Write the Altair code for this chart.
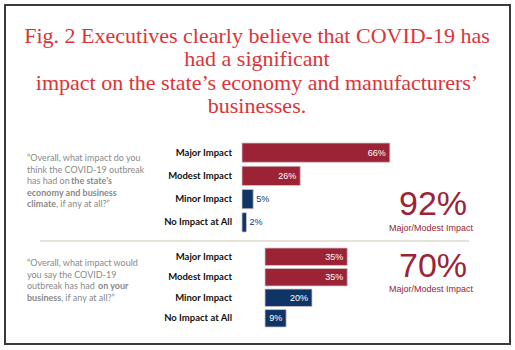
import altair as alt
import pandas as pd

# ---------------- data ----------------
title_lines = [
    "Fig. 2 Executives clearly believe that COVID-19 has",
    "had a significant",
    "impact on the state\u2019s economy and manufacturers\u2019",
    "businesses.",
]
categories = ["Major Impact", "Modest Impact", "Minor Impact", "No Impact at All"]
economy_pct = [66, 26, 5, 2]
business_pct = [35, 35, 20, 9]
summary_pct = [92, 70]
summary_label = "Major/Modest Impact"

# question texts: lines of (segment, bold)
q1_lines = [
    [("\u201cOverall, what impact do you", False)],
    [("think the COVID-19 outbreak", False)],
    [("has had on ", False), ("the state's", True)],
    [("economy and business", True)],
    [("climate", True), (", if any at all?\u201d", False)],
]
q2_lines = [
    [("\u201cOverall, what impact would", False)],
    [("you say the COVID-19", False)],
    [("outbreak has had ", False), ("on your", True)],
    [("business", True), (", if any at all?\u201d", False)],
]

# ---------------- style ----------------
CRIMSON = "#9b2335"
NAVY = "#0f3567"
RED = "#dd3338"
GRAY = "#8a8a8a"
W, H = 515, 350

one = pd.DataFrame({"k": [0]})


def text_layer(txt, x, y, **kw):
    return alt.Chart(one).mark_text(**kw).encode(
        x=alt.value(x), y=alt.value(y), text=alt.value(txt)
    )


layers = []

# frame
layers.append(
    alt.Chart(one).mark_rect(filled=False, stroke="#3a3a3a", strokeWidth=2).encode(
        x=alt.value(5), x2=alt.value(510), y=alt.value(5), y2=alt.value(344)
    )
)

# title
layers.append(
    text_layer(title_lines, 257, 43, align="center", baseline="alphabetic",
               font="Liberation Serif", fontSize=22, color=RED, lineHeight=23.3)
)


def panel(values, start, pxper, y0, y1, pad):
    df = pd.DataFrame({"cat": categories, "pct": values})
    xs = alt.Scale(domain=[0, 100], range=[start, start + 100 * pxper])
    ys = alt.Scale(type="band", domain=categories, range=[y0, y1],
                   paddingInner=pad, paddingOuter=0)
    base = alt.Chart(df).transform_calculate(lab="datum.pct + '%'")
    bars = base.mark_bar(stroke="#cfc3c5", strokeWidth=0.8).encode(
        x=alt.X("pct:Q", scale=xs, axis=None),
        y=alt.Y("cat:N", scale=ys, axis=None),
        color=alt.Color("cat:N", legend=None,
                        scale=alt.Scale(domain=categories,
                                        range=[CRIMSON, CRIMSON, NAVY, NAVY])),
    )
    cats = base.mark_text(align="right", baseline="middle", font="Lato",
                          fontWeight="bold", fontSize=9.5, color="#111111").encode(
        x=alt.value(232),
        y=alt.Y("cat:N", scale=ys, axis=None, bandPosition=0.5),
        text="cat:N",
    )
    inside = base.transform_filter("datum.pct >= 9").mark_text(
        align="right", baseline="middle", dx=-4, font="Liberation Sans",
        fontSize=9, color="white").encode(
        x=alt.X("pct:Q", scale=xs, axis=None),
        y=alt.Y("cat:N", scale=ys, axis=None, bandPosition=0.5),
        text="lab:N",
    )
    outside = base.transform_filter("datum.pct < 9").mark_text(
        align="left", baseline="middle", dx=3, font="Liberation Sans",
        fontSize=9, color=NAVY).encode(
        x=alt.X("pct:Q", scale=xs, axis=None),
        y=alt.Y("cat:N", scale=ys, axis=None, bandPosition=0.5),
        text="lab:N",
    )
    return alt.layer(bars, cats, inside, outside)


layers.append(panel(economy_pct, 242, 2.24, 143, 232, 0.17))
layers.append(panel(business_pct, 265, 2.35, 248, 327, 0.15))

# question texts
q1_y = [158, 169.5, 181, 192.5, 204]
q1_off = [[0], [0], [0, 44], [0], [0, 29]]
q2_y = [263, 274.5, 286, 297.5]
q2_off = [[0], [0], [0, 71], [0, 34]]
for lines, ys, offs in ((q1_lines, q1_y, q1_off), (q2_lines, q2_y, q2_off)):
    for segs, yy, oo in zip(lines, ys, offs):
        for (txt, bold), dxo in zip(segs, oo):
            layers.append(
                text_layer(txt, 27 + dxo, yy, align="left", baseline="middle",
                           font="Lato", fontSize=9, color=GRAY,
                           fontWeight="bold" if bold else "normal")
            )

# separator
layers.append(
    alt.Chart(one).mark_rule(color="#dcd8cc", strokeWidth=1.5).encode(
        x=alt.value(40), x2=alt.value(469), y=alt.value(241)
    )
)

# summary numbers
layers.append(text_layer(f"{summary_pct[0]}%", 433, 215, align="center",
                         baseline="alphabetic", font="Liberation Sans",
                         fontSize=34, color=CRIMSON))
layers.append(text_layer(summary_label, 431, 231, align="center",
                         baseline="alphabetic", font="Liberation Sans",
                         fontSize=9, color=CRIMSON))
layers.append(text_layer(f"{summary_pct[1]}%", 433, 277, align="center",
                         baseline="alphabetic", font="Liberation Sans",
                         fontSize=34, color=CRIMSON))
layers.append(text_layer(summary_label, 431, 292, align="center",
                         baseline="alphabetic", font="Liberation Sans",
                         fontSize=9, color=CRIMSON))

chart = (
    alt.layer(*layers)
    .resolve_scale(x="independent", y="independent", color="independent")
    .properties(width=W, height=H, autosize="none", padding=0,
                background="white")
    .configure_view(stroke="transparent")
)

chart.save("out.html", embed_options={"renderer": "svg", "actions": False})
